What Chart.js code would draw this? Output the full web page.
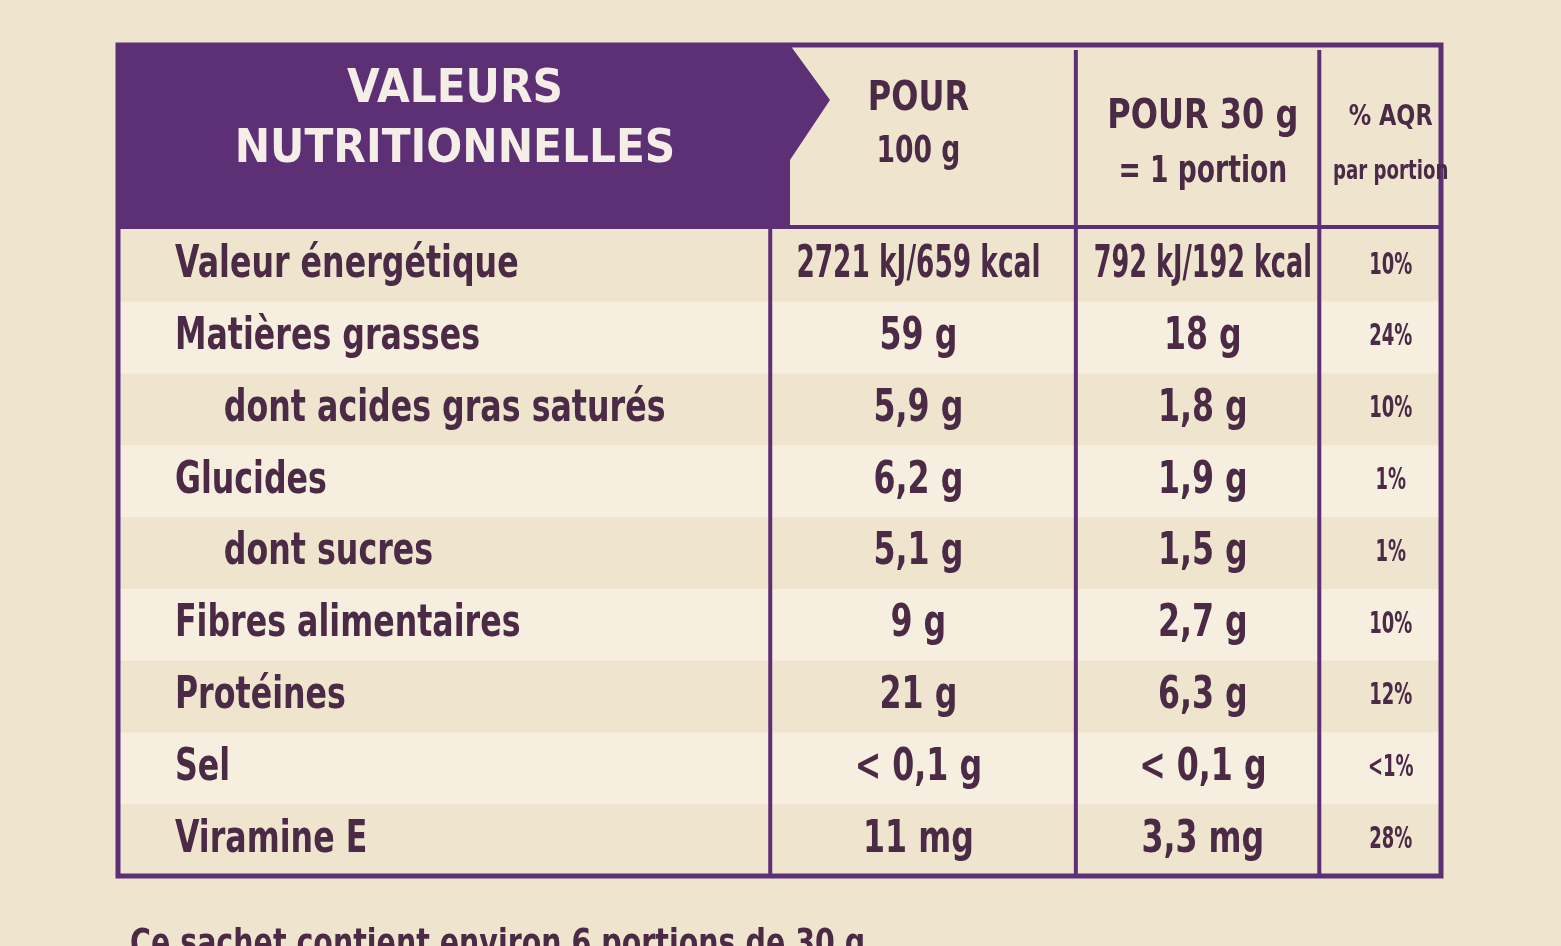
<!DOCTYPE html>
<html lang="fr">
<head>
<meta charset="utf-8"/>
<title>Valeurs nutritionnelles</title>
<script src="https://cdn.jsdelivr.net/npm/chart.js"></script>
<style>
  html, body { margin: 0; padding: 0; background: #efe5cf; }
  #wrap { width: 1561px; height: 946px; }
</style>
</head>
<body>
<div id="wrap"><canvas id="label"></canvas></div>
<script>
  // rows of the label
  const rows = ["Valeur énergétique", "Matières grasses", "dont acides gras saturés", "Glucides",
                "dont sucres", "Fibres alimentaires", "Protéines", "Sel", "Viramine E"];
  const indented = [false, false, true, false, true, false, false, false, false];
  const per100g = ["2721 kJ/659 kcal", "59 g", "5,9 g", "6,2 g", "5,1 g", "9 g", "21 g", "< 0,1 g", "11 mg"];
  const per30g = ["792 kJ/192 kcal", "18 g", "1,8 g", "1,9 g", "1,5 g", "2,7 g", "6,3 g", "< 0,1 g", "3,3 mg"];
  const pctAqr = ["10%", "24%", "10%", "1%", "1%", "10%", "12%", "<1%", "28%"];
  const headers = [["POUR", "100 g"], ["POUR 30 g", "= 1 portion"], ["% AQR", "par portion"]];

  // column positions on the x scale (0..1)
  const colLabel = 0.043, colIndent = 0.08;
  const colCenters = [0.605, 0.82, 0.962];
  const dividers = [0.493, 0.724, 0.908];

  const ink = '#4b2a45';
  const purple = '#5d2f74';
  const font = w => `bold ${w}px "DejaVu Sans", sans-serif`;

  // condensed text: DejaVu squeezed horizontally
  function narrowText(ctx, txt, px, py, sx) {
    ctx.save();
    ctx.translate(px, py);
    ctx.scale(sx, 1);
    ctx.fillText(txt, 0, 0);
    ctx.restore();
  }

  const tablePlugin = {
    id: 'table',
    beforeDatasetsDraw(chart) {
      const { ctx, chartArea: a, scales: { x, y } } = chart;
      const step = y.getPixelForValue(1) - y.getPixelForValue(0);
      ctx.save();
      rows.forEach((r, i) => {
        if (i % 2 === 1) {
          ctx.fillStyle = '#f6efdf';
          ctx.fillRect(a.left, y.getPixelForValue(i) - step / 2, a.right - a.left, step);
        }
      });
      ctx.strokeStyle = purple;
      ctx.lineWidth = 5;
      ctx.strokeRect(a.left, 45, a.right - a.left, a.bottom - 45);
      // header band with arrow
      const hx = 830;
      ctx.fillStyle = purple;
      ctx.beginPath();
      ctx.moveTo(a.left, 45); ctx.lineTo(hx - 40, 45); ctx.lineTo(hx, 100);
      ctx.lineTo(hx - 40, 160); ctx.lineTo(hx - 40, a.top - 5); ctx.lineTo(a.left, a.top - 5);
      ctx.closePath(); ctx.fill();
      ctx.fillStyle = '#f4eee6';
      ctx.font = font(46);
      ctx.textAlign = 'center'; ctx.textBaseline = 'middle';
      narrowText(ctx, 'VALEURS', 455, 90, 0.92);
      narrowText(ctx, 'NUTRITIONNELLES', 455, 150, 0.92);
      // dividers
      ctx.strokeStyle = purple; ctx.lineWidth = 4;
      dividers.forEach((d, i) => {
        const px = x.getPixelForValue(d);
        ctx.beginPath(); ctx.moveTo(px, i === 0 ? a.top - 5 : 50); ctx.lineTo(px, a.bottom); ctx.stroke();
      });
      ctx.beginPath(); ctx.moveTo(a.left, a.top - 3); ctx.lineTo(a.right, a.top - 3); ctx.stroke();
      // column headers
      ctx.fillStyle = ink;
      headers.forEach((h, i) => {
        const px = x.getPixelForValue(colCenters[i]);
        ctx.font = font(i === 2 ? 28 : 40);
        narrowText(ctx, h[0], px, i === 0 ? 100 : 118, 0.8);
        ctx.font = font(i === 2 ? 26 : 38);
        narrowText(ctx, h[1], px, i === 0 ? 152 : 172, 0.7);
      });
      // rows
      rows.forEach((r, i) => {
        const py = y.getPixelForValue(i);
        ctx.font = font(44);
        ctx.textAlign = 'left';
        narrowText(ctx, r, x.getPixelForValue(indented[i] ? colIndent : colLabel), py, 0.72);
        ctx.textAlign = 'center';
        narrowText(ctx, per100g[i], x.getPixelForValue(colCenters[0]), py, i === 0 ? 0.6 : 0.72);
        narrowText(ctx, per30g[i], x.getPixelForValue(colCenters[1]), py, i === 0 ? 0.58 : 0.72);
        ctx.font = font(30);
        narrowText(ctx, pctAqr[i], x.getPixelForValue(colCenters[2]), py, 0.6);
      });
      ctx.font = font(38); ctx.textAlign = 'left';
      narrowText(ctx, 'Ce sachet contient environ 6 portions de 30 g', 130, 945, 0.75);
      ctx.restore();
    }
  };

  new Chart(document.getElementById('label'), {
    type: 'scatter',
    data: { datasets: [{ data: rows.map((r, i) => ({ x: colCenters[0], y: i })), pointRadius: 0 }] },
    options: {
      responsive: true, maintainAspectRatio: false, animation: false,
      layout: { padding: { left: 118, right: 120, top: 230, bottom: 70 } },
      plugins: { legend: { display: false }, tooltip: { enabled: false } },
      scales: {
        x: { type: 'linear', min: 0, max: 1, display: false },
        y: { type: 'linear', min: -0.5, max: rows.length - 0.5, reverse: true, display: false }
      }
    },
    plugins: [tablePlugin]
  });
</script>
</body>
</html>
